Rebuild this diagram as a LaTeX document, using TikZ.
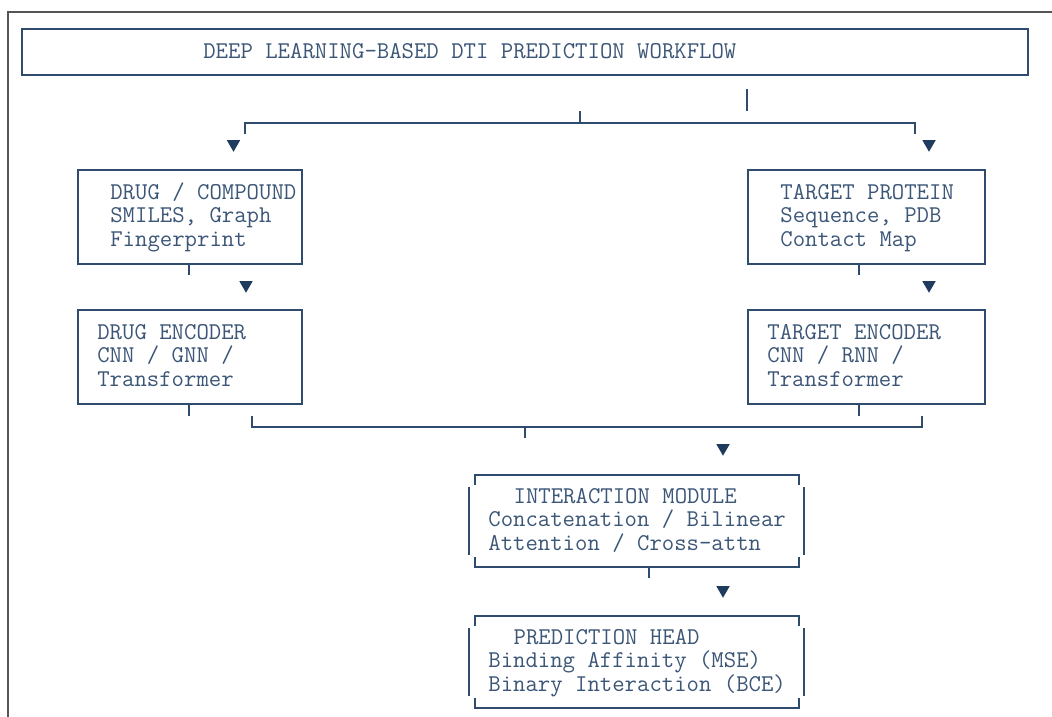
\documentclass[tikz,border=0pt]{standalone}
\usepackage{fontspec}
\usepackage{tikz}
\usetikzlibrary{shapes.geometric}
\definecolor{inkblue}{HTML}{2F4B6E}
\definecolor{textblue}{HTML}{3C5677}
\definecolor{tipblue}{HTML}{1F3B5E}
\definecolor{framegray}{HTML}{555555}

\begin{document}
\begin{tikzpicture}[x=0.02cm, y=-0.02cm,
        wire/.style={draw=inkblue, line width=1.1pt},
        block/.style={wire, rectangle, inner sep=0, minimum height=1.88cm},
        open/.style={rectangle, inner sep=0, minimum width=6.48cm, minimum height=1.84cm},
        mono/.style={font=\ttfamily\fontsize{13.7pt}{13.3pt}\selectfont, text=textblue,
                     inner sep=0, anchor=base west, align=left},
        tip/.style={regular polygon, regular polygon sides=3, rotate=180,
                    fill=tipblue, inner sep=0, minimum size=0.31cm}]
        \useasboundingbox (0,0) rectangle (1052,717);
        \draw[framegray, line width=0.85pt] (8,717) -- (8,12) -- (1052,12);

        % boxes
        \node[block, minimum width=20.12cm, minimum height=0.92cm] (title) at (525,52) {};
        \node[block, minimum width=4.48cm] (drug) at (190,217) {};
        \node[block, minimum width=4.48cm] (drugenc) at (190,357) {};
        \node[block, minimum width=4.74cm] (prot) at (866.5,217) {};
        \node[block, minimum width=4.74cm] (protenc) at (866.5,357) {};
        \node[open] (inter) at (637,521) {};
        \node[open] (pred) at (637,662) {};

        % texts (base anchor sits on the last line)
        \node[mono] (titletxt) at (203,58) {DEEP LEARNING-BASED DTI PREDICTION WORKFLOW};
        \node[mono] (drugtxt) at (110,246) {DRUG / COMPOUND\\SMILES, Graph\\Fingerprint};
        \node[mono] (drugenctxt) at (97,386) {DRUG ENCODER\\CNN / GNN /\\Transformer};
        \node[mono] (prottxt) at (780,246) {TARGET PROTEIN\\Sequence, PDB\\Contact Map};
        \node[mono] (protenctxt) at (767,386) {TARGET ENCODER\\CNN / RNN /\\Transformer};
        \node[mono] (intertxt) at (488,550) {\hspace*{1.05em}INTERACTION MODULE\\Concatenation / Bilinear\\Attention / Cross-attn};
        \node[mono] (predtxt) at (488,691) {\hspace*{1.05em}PREDICTION HEAD\\Binding Affinity (MSE)\\Binary Interaction (BCE)};

        % bracket sides of the open boxes
        \foreach \b in {inter, pred} {
            \draw[wire] (\b.north west) ++(0,10) -- (\b.north west) -- (\b.north east) -- ++(0,10);
            \draw[wire] (\b.south west) ++(0,-10) -- (\b.south west) -- (\b.south east) -- ++(0,-10);
            \draw[wire] (\b.west) ++(-6,-34) -- ++(0,68);
            \draw[wire] (\b.east) ++(5,-34) -- ++(0,68);
        }

        % split under the title
        \coordinate (splitL) at (245,123);
        \coordinate (splitR) at (915,123);
        \draw[wire] (title.south west) ++(726,13) -- ++(0,22);
        \draw[wire] (splitL) ++(0,-12) ++(335,0) -- ++(0,12);
        \draw[wire] (splitL) ++(0,11) -- (splitL) -- (splitR) -- ++(0,11);

        % stubs under the boxes
        \draw[wire] (drug.south west) ++(112,0) -- ++(0,10);
        \draw[wire] (drugenc.south west) ++(112,0) -- ++(0,11);
        \draw[wire] (prot.south west) ++(112,0) -- ++(0,10);
        \draw[wire] (protenc.south west) ++(112,0) -- ++(0,11);
        \draw[wire] (inter.south west) ++(174,0) -- ++(0,11);

        % merge into the interaction module
        \coordinate (mergeL) at (252,427);
        \coordinate (mergeR) at (922,427);
        \draw[wire] (mergeL) ++(0,-11) -- (mergeL) -- (mergeR) -- ++(0,-11);
        \draw[wire] (mergeL) ++(273,0) -- ++(0,11);

        % arrow heads
        \node[tip] (t1) at (233.5,144) {};
        \node[tip] (t2) at (929,144) {};
        \node[tip] (t3) at (246,285) {};
        \node[tip] (t4) at (929,285) {};
        \node[tip] (t5) at (723,448) {};
        \node[tip] (t6) at (723,590) {};
    \end{tikzpicture}
\end{document}
